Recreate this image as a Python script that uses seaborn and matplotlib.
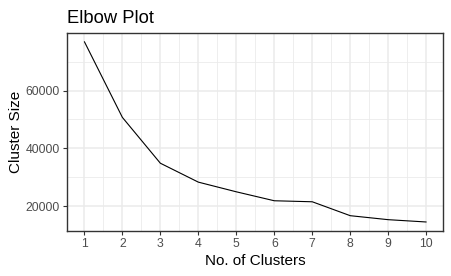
import matplotlib
matplotlib.use("Agg")
import matplotlib.pyplot as plt
from matplotlib.ticker import MultipleLocator
import seaborn as sns
import pandas as pd

clusters = [1, 2, 3, 4, 5, 6, 7, 8, 9, 10]
cluster_size = [76900, 50700, 34830, 28280, 24930, 21830, 21480, 16660, 15280, 14480]
x_ticks = [1, 2, 3, 4, 5, 6, 7, 8, 9, 10]
y_ticks = [20000, 40000, 60000]

df = pd.DataFrame({"k": clusters, "size": cluster_size})

sns.set_theme(style="white")
plt.rcParams["font.family"] = ["Liberation Sans", "DejaVu Sans"]

fig = plt.figure(figsize=(4.51, 2.76), dpi=100)
W, H = 451, 276
ax = fig.add_axes([67.3 / W, 1 - 231 / H, (443.3 - 67.3) / W, (231 - 32.7) / H])

sns.lineplot(data=df, x="k", y="size", ax=ax, color="black", linewidth=0.8)

ax.set_xlim(0.55, 10.45)
ymin, ymax = min(cluster_size), max(cluster_size)
pad = (ymax - ymin) * 0.05
ax.set_ylim(ymin - pad, ymax + pad)

ax.set_xticks(x_ticks)
ax.set_yticks(y_ticks)
ax.xaxis.set_minor_locator(MultipleLocator(0.5))
ax.yaxis.set_minor_locator(MultipleLocator(10000))
ax.set_axisbelow(True)
ax.grid(which="major", color="#EBEBEB", linewidth=1.1)
ax.grid(which="minor", color="#EBEBEB", linewidth=0.6)
ax.tick_params(which="major", length=2.75, width=0.8, color="#333333",
               labelsize=8.8, labelcolor="#4D4D4D", pad=2.5, direction="out",
               bottom=True, left=True)
ax.tick_params(which="minor", length=0, bottom=False, left=False)
for s in ax.spines.values():
    s.set_color("#333333")
    s.set_linewidth(1.0)

ax.set_xlabel("No. of Clusters", fontsize=11, color="black", labelpad=3)
ax.set_ylabel("Cluster Size", fontsize=11, color="black", labelpad=2)
ax.set_title("Elbow Plot", fontsize=13.2, color="black", loc="left", pad=7)

fig.savefig("out.png", dpi=100, facecolor="white")
